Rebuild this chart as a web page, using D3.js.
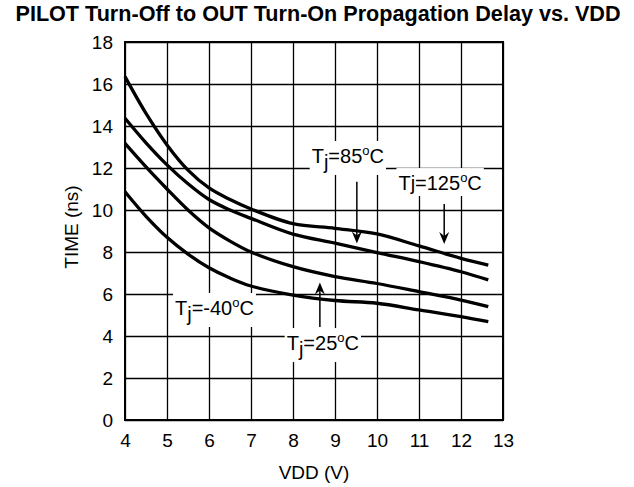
<!DOCTYPE html>
<html>
<head>
<meta charset="utf-8">
<script src="https://cdn.jsdelivr.net/npm/d3@7"></script>
<style>
  body { margin: 0; background: #fff; }
  svg { display: block; }
</style>
</head>
<body>
<div id="chart"></div>
<script>
// Data (VDD in volts, delay in ns)
const vdd = [4, 4.5, 5, 5.5, 6, 6.5, 7, 8, 9, 10, 11, 12, 12.65];
const t125 = [16.35, 14.6, 13.1, 11.9, 11.05, 10.5, 10.05, 9.35, 9.13, 8.86, 8.29, 7.7, 7.38];
const t85  = [14.37, 13.2, 12.15, 11.25, 10.5, 10.0, 9.6, 8.85, 8.42, 7.97, 7.54, 7.06, 6.67];
const t25  = [13.17, 12.05, 11.0, 10.0, 9.15, 8.52, 8.0, 7.3, 6.83, 6.5, 6.11, 5.71, 5.4];
const tm40 = [10.87, 9.7, 8.7, 7.9, 7.25, 6.76, 6.38, 5.95, 5.69, 5.56, 5.24, 4.92, 4.68];

const xTicks = [4, 5, 6, 7, 8, 9, 10, 11, 12, 13];
const yTicks = [0, 2, 4, 6, 8, 10, 12, 14, 16, 18];

// Curve labels: text anchor in data units, j subscripted or not
const labels = [
  { temp: '85',  x: 8.445, y: 12.24, sub: true },
  { temp: '125', x: 10.51, y: 10.95, sub: false },
  { temp: '25',  x: 7.85,  y: 3.33,  sub: true },
  { temp: '-40', x: 5.19,  y: 5.0,   sub: true }
];

// Arrows: x, from, to (tip) in data units
const arrows = [
  { x: 9.52, from: 11.35, to: 8.41 },
  { x: 11.6, from: 10.29, to: 8.38 },
  { x: 8.64, from: 4.43,  to: 6.55 }
];

const FONT = "'Liberation Sans', Arial, sans-serif";
const W = 634, H = 487;
const margin = { top: 42, right: 131, bottom: 67, left: 125 };
const width = W - margin.left - margin.right;
const height = H - margin.top - margin.bottom;

const svg = d3.select('#chart').append('svg')
  .attr('width', W)
  .attr('height', H)
  .style('font-family', FONT);

svg.append('text')
  .attr('x', 318)
  .attr('y', 21)
  .attr('text-anchor', 'middle')
  .style('font-weight', 'bold')
  .style('font-size', '21.6px')
  .text('PILOT Turn-Off to OUT Turn-On Propagation Delay vs. VDD');

const g = svg.append('g')
  .attr('transform', `translate(${margin.left},${margin.top})`);

const x = d3.scaleLinear().domain([4, 13]).range([0, width]);
const y = d3.scaleLinear().domain([0, 18]).range([height, 0]);

// Grid
g.append('g')
  .call(d3.axisBottom(x).tickValues(xTicks).tickSize(height).tickFormat(''))
  .call(a => a.select('.domain').remove())
  .call(a => a.selectAll('line').attr('stroke', '#000').attr('stroke-width', 1.3));

g.append('g')
  .call(d3.axisLeft(y).tickValues(yTicks).tickSize(-width).tickFormat(''))
  .call(a => a.select('.domain').remove())
  .call(a => a.selectAll('line').attr('stroke', '#000').attr('stroke-width', 1.3));

// Tick labels
const xAxis = g.append('g')
  .attr('transform', `translate(0,${height})`)
  .call(d3.axisBottom(x).tickValues(xTicks).tickSize(0).tickPadding(14).tickFormat(d3.format('d')));
xAxis.select('.domain').remove();
xAxis.selectAll('text')
  .style('font-family', FONT).style('font-size', '19px').attr('fill', '#000');

const yAxis = g.append('g')
  .call(d3.axisLeft(y).tickValues(yTicks).tickSize(0).tickPadding(12).tickFormat(d3.format('d')));
yAxis.select('.domain').remove();
yAxis.selectAll('text')
  .style('font-family', FONT).style('font-size', '19px').attr('fill', '#000');

// Frame
g.append('rect')
  .attr('width', width)
  .attr('height', height)
  .attr('fill', 'none')
  .attr('stroke', '#000')
  .attr('stroke-width', 2);

// Axis titles
svg.append('text')
  .attr('x', margin.left + width / 2)
  .attr('y', 479)
  .attr('text-anchor', 'middle')
  .style('font-size', '19px')
  .text('VDD (V)');

svg.append('text')
  .attr('transform', 'translate(78,227) rotate(-90)')
  .attr('text-anchor', 'middle')
  .style('font-size', '19px')
  .text('TIME (ns)');

// Curves
const line = d3.line()
  .x((d, i) => x(vdd[i]))
  .y(d => y(d))
  .curve(d3.curveCatmullRom.alpha(0.5));

[t125, t85, t25, tm40].forEach(s => {
  g.append('path')
    .datum(s)
    .attr('fill', 'none')
    .attr('stroke', '#000')
    .attr('stroke-width', 3.3)
    .attr('d', line);
});

// Labels with white backing
labels.forEach(l => {
  const lg = g.append('g');
  const txt = lg.append('text')
    .attr('x', x(l.x))
    .attr('y', y(l.y))
    .style('font-size', '20px');
  txt.append('tspan').text('T');
  if (l.sub) {
    txt.append('tspan').attr('dy', 6).text('j');
    txt.append('tspan').attr('dy', -6).text('=' + l.temp);
  } else {
    txt.append('tspan').text('j=' + l.temp);
  }
  txt.append('tspan').attr('dy', -8).style('font-size', '13px').text('o');
  txt.append('tspan').attr('dy', 8).text('C');
  const b = txt.node().getBBox();
  lg.insert('rect', 'text')
    .attr('x', b.x - 2)
    .attr('y', b.y - 2)
    .attr('width', b.width + 4)
    .attr('height', b.height + 4)
    .attr('fill', '#fff');
});

// Arrows
arrows.forEach(a => {
  const dir = Math.sign(y(a.to) - y(a.from));
  const tipY = y(a.to), ax = x(a.x);
  g.append('line')
    .attr('x1', ax).attr('x2', ax)
    .attr('y1', y(a.from)).attr('y2', tipY - dir * 6)
    .attr('stroke', '#000')
    .attr('stroke-width', 1.5);
  g.append('path')
    .attr('d', `M${ax},${tipY} L${ax - 5},${tipY - dir * 12} L${ax},${tipY - dir * 8} L${ax + 5},${tipY - dir * 12} Z`)
    .attr('fill', '#000');
});
</script>
</body>
</html>
